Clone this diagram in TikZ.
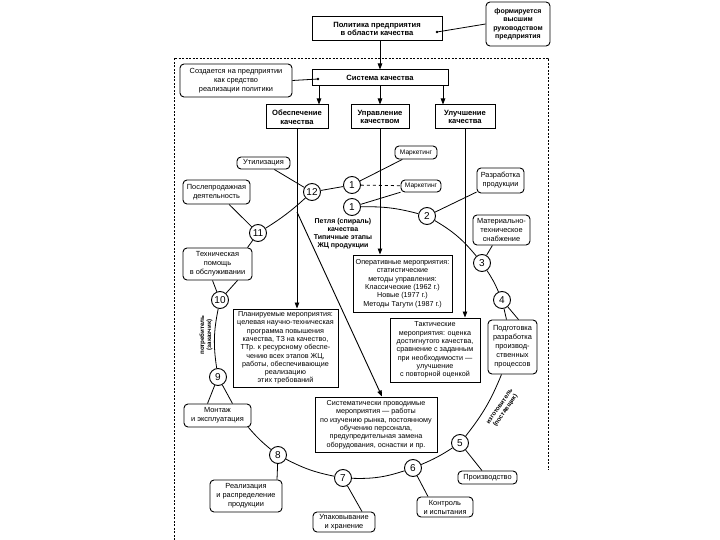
\documentclass[tikz,border=0pt]{standalone}
\usepackage{fontspec}
\setmainfont{Liberation Sans}
\usetikzlibrary{arrows.meta,calc}
\begin{document}
\begin{tikzpicture}[x=1pt,y=1pt,
  every node/.style={font=\fontsize{7.2}{8.3}\selectfont},
  boldf/.style={font=\fontsize{7.6}{8.8}\selectfont\bfseries},
  box/.style={draw,line width=1pt,fill=white,align=center,inner sep=1pt},
  sbox/.style={draw,line width=0.9pt,fill=white,align=center,inner sep=1pt,rounded corners=4pt,font=\fontsize{7.4}{9}\selectfont},
  num/.style={circle,draw,line width=0.9pt,fill=white,minimum size=17pt,inner sep=0pt,font=\fontsize{10}{10}\selectfont},
  arr/.style={line width=0.9pt,-{Triangle[length=6pt,width=4.5pt]}},
  ln/.style={line width=0.8pt},
  frame/.style={line width=0.8pt,dash pattern=on 2pt off 1.5pt},
]
\useasboundingbox[fill=white] (0,0) rectangle (720,-540);

% dashed frame
\draw[frame] (174,-540) -- (174,-58) -- (548,-58) -- (548,-470);

% top part
\node[box,boldf,minimum width=130pt,minimum height=24pt] (pol) at (377,-29) {Политика предприятия\\в области качества};
\node[sbox,font=\fontsize{7}{8.4}\selectfont\bfseries,minimum width=64pt,minimum height=44pt] (form) at (518,-24) {формируется\\высшим\\руководством\\предприятия};
\coordinate (poldot) at (437,-32);
\fill (poldot) circle (1.3pt);
\draw[ln] (poldot) -- (form.west);

\node[box,boldf,minimum width=136pt,minimum height=16pt] (sys) at (380,-78) {Система качества};
\draw[arr] (pol.south -| sys.north) -- (sys.north);
\node[sbox,minimum width=112pt,minimum height=33pt,font=\fontsize{7.4}{8.8}\selectfont] (soz) at (236,-80.5) {Создается на предприятии\\как средство\\реализации политики};
\coordinate (sysdot) at (318,-79);
\fill (sysdot) circle (1.3pt);
\draw[ln] (soz.east) -- (sysdot);

\node[box,boldf,minimum width=62pt,minimum height=24pt] (obe) at (297,-117) {Обеспечение\\качества};
\node[box,boldf,minimum width=58pt,minimum height=24pt] (upr) at (380,-117) {Управление\\качеством};
\node[box,boldf,minimum width=60pt,minimum height=24pt] (ulu) at (465,-117) {Улучшение\\качества};
\draw[arr] (sys.south -| 319,0) -- (obe.north -| 319,0);
\draw[arr] (sys.south -| upr.north) -- (upr.north);
\draw[arr] (sys.south -| 443,0) -- (ulu.north -| 443,0);

% activity boxes
\node[box,minimum width=105pt,minimum height=78pt] (plan) at (285.5,-348) {Планируемые мероприятия:\\целевая научно-техническая\\программа повышения\\качества, ТЗ на качество,\\ТТр. к ресурсному обеспе-\\чению всех этапов ЖЦ,\\работы, обеспечивающие\\реализацию\\этих требований};
\node[box,minimum width=99pt,minimum height=57pt] (oper) at (402.5,-283.5) {Оперативные мероприятия:\\статистические\\методы управления:\\Классические (1962 г.)\\Новые (1977 г.)\\Методы Тагути (1987 г.)};
\node[box,minimum width=90pt,minimum height=64pt] (takt) at (435,-350) {Тактические\\мероприятия: оценка\\достигнутого качества,\\сравнение с заданным\\при необходимости —\\улучшение\\с повторной оценкой};
\node[box,minimum width=122pt,minimum height=55pt] (sist) at (376,-424.5) {Систематически проводимые\\мероприятия — работы\\по изучению рынка, постоянному\\обучению персонала,\\предупредительная замена\\оборудования, оснастки и пр.};

\draw[arr] (obe.south) -- (obe.south |- plan.north);
\draw[arr] (upr.south) -- (upr.south |- oper.north);
\draw[arr] (ulu.south) -- (ulu.south |- takt.north);
\coordinate (br) at (obe.south |- 0,-212);
\draw[arr] (br) -- ($(sist.north)+(6,0)$);

% stage boxes
\node[sbox,minimum width=42pt,minimum height=13pt,font=\fontsize{6.6}{8}\selectfont] (mark1) at (416,-152.5) {Маркетинг};
\node[sbox,minimum width=40pt,minimum height=12pt,font=\fontsize{6.6}{8}\selectfont] (mark2) at (421,-186) {Маркетинг};
\node[sbox,minimum width=53pt,minimum height=12pt] (util) at (263.5,-163) {Утилизация};
\node[sbox,minimum width=67pt,minimum height=24pt] (post) at (216.5,-192) {Послепродажная\\деятельность};
\node[sbox,minimum width=47pt,minimum height=25pt] (razr) at (500.5,-180.5) {Разработка\\продукции};
\node[sbox,minimum width=57pt,minimum height=30pt] (mat) at (501.5,-230) {Материально-\\техническое\\снабжение};
\node[sbox,minimum width=69pt,minimum height=32pt] (tech) at (217.5,-264) {Техническая\\помощь\\в обслуживании};
\node[sbox,minimum width=49pt,minimum height=54pt] (pod) at (512.5,-347) {Подготовка\\разработка\\производ-\\ственных\\процессов};
\node[sbox,minimum width=67pt,minimum height=23pt] (mont) at (217.5,-415.5) {Монтаж\\и эксплуатация};
\node[sbox,minimum width=72pt,minimum height=32pt] (real) at (246,-496) {Реализация\\и распределение\\продукции};
\node[sbox,minimum width=62pt,minimum height=20pt] (upak) at (344,-522) {Упаковывание\\и хранение};
\node[sbox,minimum width=56pt,minimum height=20pt] (kontr) at (445,-507) {Контроль\\и испытания};
\node[sbox,minimum width=59pt,minimum height=13pt] (proizv) at (487.5,-477.5) {Производство};

% loop label and rotated labels
\node[align=center,font=\fontsize{7}{8}\selectfont\bfseries] (loop) at (343,-234) {Петля (спираль)\\качества\\Типичные этапы\\ЖЦ продукции};
\node[rotate=90,align=center,font=\fontsize{6.2}{7}\selectfont\bfseries] (potr) at (206,-335) {потребитель\\(заказчик)};
\node[rotate=55,align=center,font=\fontsize{6.2}{7}\selectfont\bfseries] (izg) at (503,-409) {изготовитель\\(поставщик)};

% circles
\node[num] (c1a) at (352,-185) {1};
\node[num] (c1b) at (352,-207) {1};
\node[num] (c2) at (427,-216) {2};
\node[num] (c3) at (482,-263) {3};
\node[num] (c4) at (502,-300) {4};
\node[num] (c5) at (460,-443) {5};
\node[num] (c6) at (413,-468) {6};
\node[num] (c7) at (343,-478) {7};
\node[num] (c8) at (278,-455) {8};
\node[num] (c9) at (218,-377) {9};
\node[num] (c10) at (220,-300) {10};
\node[num] (c11) at (258,-233) {11};
\node[num] (c12) at (312,-192) {12};

% spiral
\draw[ln] (c1b) to[bend left=8] (c2);
\draw[ln] (c2) to[bend left=10] (c3);
\draw[ln] (c3) to[bend left=5] (c4);
\draw[ln] (c4) -- ($(pod.north)+(-6,0)$);
\draw[ln] (c4) -- ($(pod.north)+(6,0)$);
\draw[ln] ($(pod.south)+(-11,0)$) to[bend left=8] (c5);
\draw[ln] (c5) to[bend left=5] (c6);
\draw[ln] (c6) to[bend left=10] (c7);
\draw[ln] (c7) to[bend left=8] (c8);
\draw[ln] (c8) to[bend left=5] ($(mont.south east)+(-3,0)$);
\draw[ln] (c9) -- ($(mont.north)+(-10,0)$);
\draw[ln] (c9) -- ($(mont.north)+(15,0)$);
\draw[ln] (c9) to[bend left=10] (c10);
\draw[ln] (c10) -- ($(tech.south)+(-5,0)$);
\draw[ln] (c10) -- ($(tech.south)+(20,0)$);
\draw[ln] ($(tech.north)+(30,0)$) -- (c11);
\draw[ln] (c11) to[bend right=5] (c12);
\draw[ln] (c12) -- (c1a);

% stage links
\draw[ln] (util) -- (c12);
\draw[ln] (post) -- (c11);
\draw[ln] (c1a) -- (mark1);
\draw[ln,dashed] (c1a) -- (mark2);
\draw[ln] (c1b) -- (mark2);
\draw[ln] (razr) -- (c2);
\draw[ln] (mat) -- (c3);
\draw[ln] (proizv) -- (c5);
\draw[ln] ($(kontr.north)+(-17,0)$) -- (c6);
\draw[ln] ($(upak.north)+(18,0)$) -- (c7);
\draw[ln] ($(real.north)+(31,0)$) -- (c8);
\end{tikzpicture}
\end{document}
